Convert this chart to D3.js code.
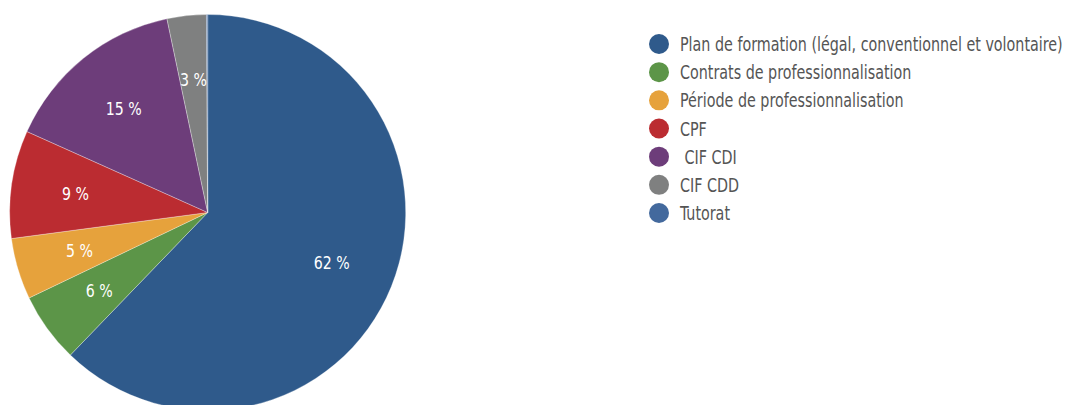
<!DOCTYPE html>
<html><head><meta charset="utf-8">
<script src="https://cdn.jsdelivr.net/npm/d3@7"></script>
<style>body{margin:0;background:#fff;}svg{display:block;}</style>
</head><body>
<svg id="c" width="1065" height="405"></svg>
<script>
const categories = ["Plan de formation (légal, conventionnel et volontaire)", "Contrats de professionnalisation", "Période de professionnalisation", "CPF", " CIF CDI", "CIF CDD", "Tutorat"];
const values = [62.2, 5.7, 5.0, 8.8, 15.0, 3.2, 0.1];
const labels = ["62 %", "6 %", "5 %", "9 %", "15 %", "3 %", ""];
const colors = ["#2f5a8b", "#5c9548", "#e6a23c", "#bb2c31", "#6d3d7a", "#7f8080", "#43699d"];

const svg = d3.select("#c");
const cx = 207.7, cy = 212.5, r = 198;
const font = "'DejaVu Sans', sans-serif";

const pie = d3.pie().sort(null).value(d => d.v);
const data = categories.map((c, i) => ({c, v: values[i], l: labels[i], col: colors[i]}));
const arcs = pie(data);
const arc = d3.arc().innerRadius(0).outerRadius(r);
const labelArc = d3.arc().innerRadius(r * 0.675).outerRadius(r * 0.675);

const g = svg.append("g").attr("transform", `translate(${cx},${cy})`);
g.selectAll("path").data(arcs).join("path")
  .attr("d", arc).attr("fill", d => d.data.col)
  .attr("stroke", "rgba(255,255,255,0.5)").attr("stroke-width", 0.6);
const pl = g.selectAll("g.lbl").data(arcs).join("g").attr("class", "lbl")
  .attr("transform", d => `translate(${labelArc.centroid(d)})`);
const plt = pl.append("text")
  .attr("text-anchor", "middle").attr("dy", "0.36em")
  .attr("fill", "#fff").style("font-family", font).style("font-stretch", "condensed").style("font-size", "18px")
  .text(d => d.data.l);
const w62 = plt.filter(d => d.data.l === "62 %").node().getComputedTextLength();
const sxL = 36 / w62;
plt.attr("transform", `scale(${sxL},1)`);

const leg = svg.append("g");
const legY = d3.scalePoint().domain(categories).range([44, 213]);
const items = leg.selectAll("g").data(data).join("g")
  .attr("transform", d => `translate(659,${legY(d.c)})`);
items.append("circle").attr("r", 10).attr("fill", d => d.col);
const lt = items.append("text").attr("dy", "0.36em")
  .attr("fill", "#555").style("font-family", font).style("font-stretch", "condensed").style("font-size", "19.5px")
  .style("white-space", "pre")
  .text(d => d.c);
const wLong = lt.filter((d, i) => i === 0).node().getComputedTextLength();
const sx = 383 / wLong;
lt.attr("transform", `translate(21,0) scale(${sx},1)`);
</script>
</body></html>
